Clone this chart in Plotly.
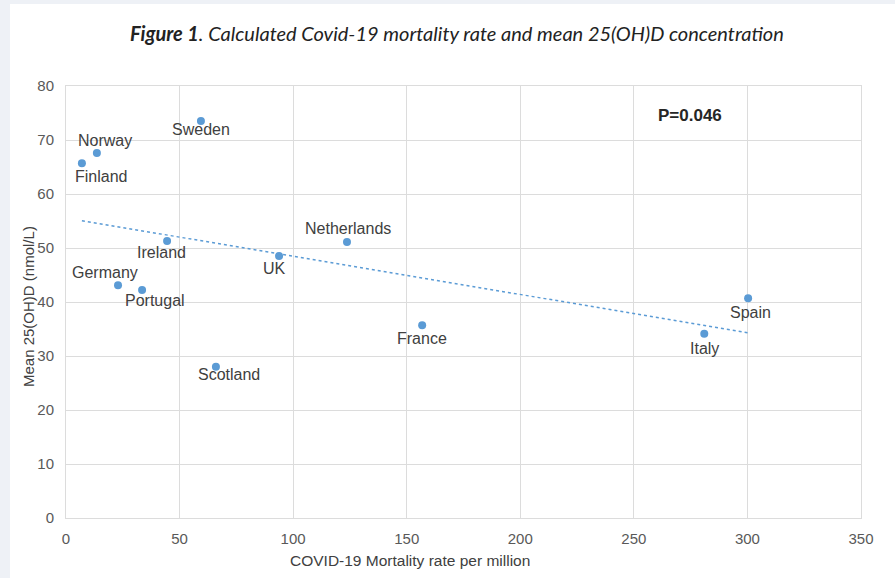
import numpy as np
import plotly.graph_objects as go

countries = ["Finland", "Norway", "Sweden", "Ireland", "UK", "Netherlands",
             "Germany", "Portugal", "Scotland", "France", "Italy", "Spain"]
mortality = [7.0, 13.6, 59.4, 44.5, 93.8, 123.7, 22.9, 33.5, 66.0, 156.8, 281.0, 300.3]
vitd = [65.7, 67.6, 73.5, 51.3, 48.5, 51.1, 43.1, 42.2, 28.0, 35.7, 34.1, 40.7]
x_ticks = [0, 50, 100, 150, 200, 250, 300, 350]
y_ticks = [0, 10, 20, 30, 40, 50, 60, 70, 80]
p_text = "P=0.046"

# label offsets (px) relative to each point
label_dx = [19, 8, 0, -6, -5, 1, -13, 13, 13, 0, 0, 2]
label_dy = [-13, 12, -8, -12, -12, 14, 13, -10, -8, -13, -15, -14]

xs = np.array(mortality)
ys = np.array(vitd)
slope, intercept = np.polyfit(xs, ys, 1)
tx = np.array([xs.min(), xs.max()])
ty = slope * tx + intercept

blue = "#5b9bd5"
fig = go.Figure()
fig.add_trace(go.Scatter(x=tx, y=ty, mode="lines",
                         line=dict(color=blue, width=1.5, dash="dot"),
                         hoverinfo="skip", showlegend=False))
fig.add_trace(go.Scatter(x=mortality, y=vitd, mode="markers",
                         marker=dict(color=blue, size=8),
                         text=countries, showlegend=False))

annotations = []
for c, x, y, dx, dy in zip(countries, mortality, vitd, label_dx, label_dy):
    annotations.append(dict(x=x, y=y, xref="x", yref="y", text=c, showarrow=False,
                            xshift=dx, yshift=dy,
                            font=dict(family="Liberation Sans, Arial", size=16, color="#404040")))
annotations.append(dict(x=0.785, y=0.9306, xref="paper", yref="paper", text="<b>" + p_text + "</b>",
                        showarrow=False, xanchor="center", yanchor="middle",
                        font=dict(family="Liberation Sans, Arial", size=17, color="#262626")))
annotations.append(dict(x=0.4918, y=1.1227, xref="paper", yref="paper",
                        xanchor="center", yanchor="middle",
                        text="<b><i>Figure 1</i></b><i>. Calculated Covid-19 mortality rate and mean 25(OH)D concentration</i>",
                        showarrow=False,
                        font=dict(family="Lato, Open Sans", size=20, color="#222222")))
annotations.append(dict(x=(410 - 66) / 795, y=(518 - 560) / 432, xref="paper", yref="paper",
                        xanchor="center", yanchor="middle", showarrow=False,
                        text="COVID-19 Mortality rate per million",
                        font=dict(family="Liberation Sans, Arial", size=15.5, color="#404040")))
annotations.append(dict(x=(28 - 66) / 795, y=(518 - 307) / 432, xref="paper", yref="paper",
                        xanchor="center", yanchor="middle", showarrow=False, textangle=-90,
                        text="Mean 25(OH)D (nmol/L)",
                        font=dict(family="Liberation Sans, Arial", size=15, color="#404040")))

fig.update_layout(
    width=895, height=578,
    margin=dict(l=66, r=34, t=86, b=60),
    paper_bgcolor="#eef1f6",
    plot_bgcolor="white",
    annotations=annotations,
    shapes=[dict(type="rect", xref="paper", yref="paper",
                 x0=-0.0704, x1=1.05, y0=-0.15, y1=1.19,
                 fillcolor="white", line=dict(width=0), layer="below")],
    font=dict(family="Liberation Sans, Arial", size=15, color="#595959"),
)
fig.update_xaxes(range=[0, 350], tickvals=x_ticks, showgrid=True, gridcolor="#dcdcdc",
                 zeroline=False, showline=True, linecolor="#dcdcdc", mirror=True,
                 ticks="", ticklabelstandoff=7,
                 tickfont=dict(size=15, color="#595959"))
fig.update_yaxes(range=[0, 80], tickvals=y_ticks, showgrid=True, gridcolor="#dcdcdc",
                 zeroline=False, showline=True, linecolor="#dcdcdc", mirror=True,
                 ticks="", ticklabelstandoff=8,
                 tickfont=dict(size=15, color="#595959"))

fig.write_html("out.html", config={"displayModeBar": False},
               post_script="document.body.style.margin='0';document.body.style.padding='0';")
